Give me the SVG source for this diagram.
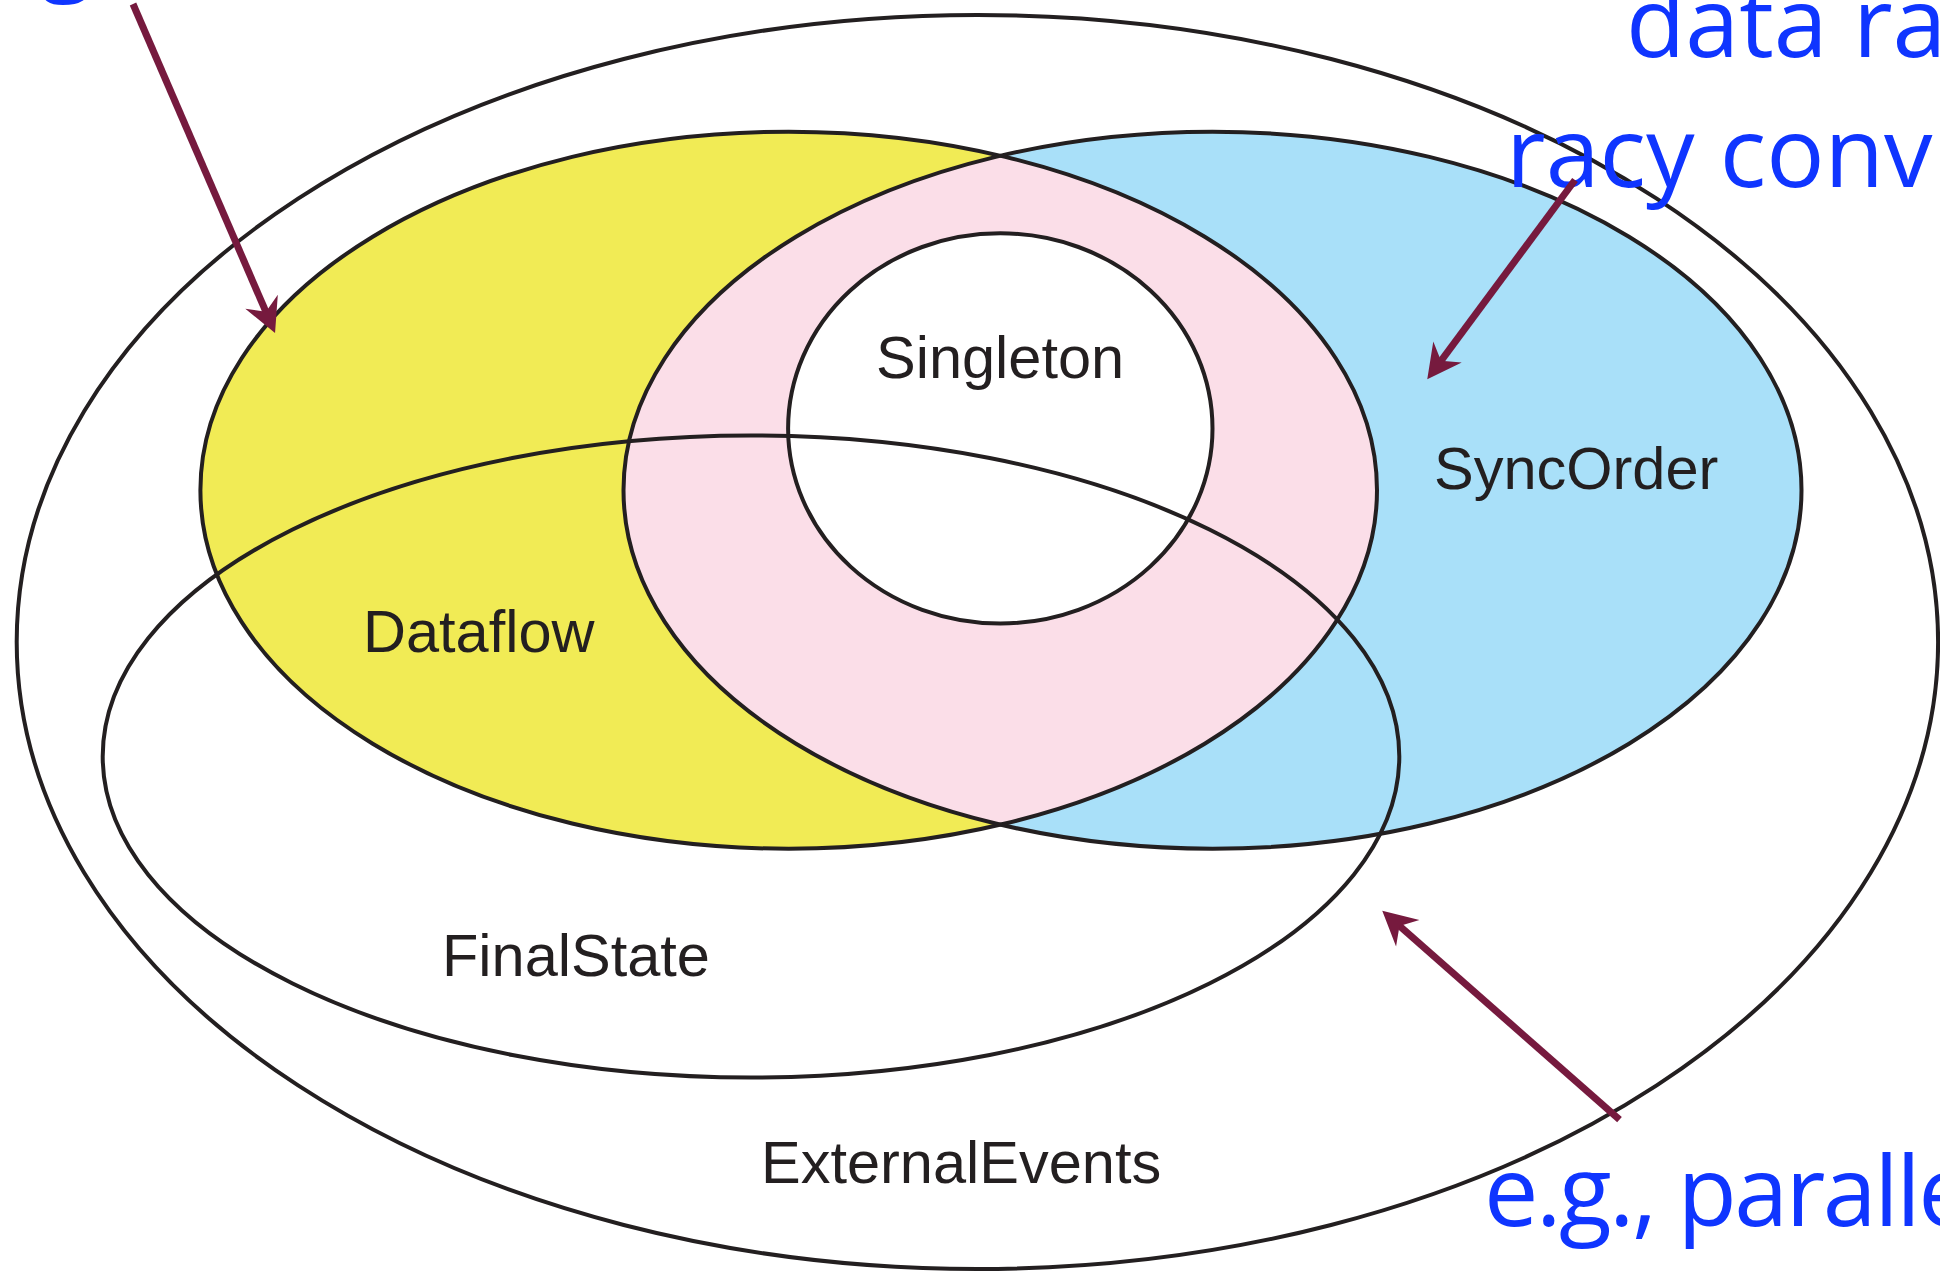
<svg xmlns="http://www.w3.org/2000/svg" width="1940" height="1271" viewBox="0 0 1940 1271">
  <style>
    .outline { fill: none; stroke: #231F20; stroke-width: 4; }
    .label { font-family: "Liberation Sans", Arial, sans-serif; font-size: 59.5px; fill: #231F20; }
    .note { font-family: "Open Sans", "Noto Sans", sans-serif; font-size: 97px; fill: #0F35FF; }
    .arrow { fill: none; stroke: #761A3E; stroke-width: 7; marker-end: url(#ah); }
  </style>
  <defs>
    <clipPath id="clipYellow">
      <ellipse cx="788.7" cy="490.2" rx="588.3" ry="358.5"/>
    </clipPath>
    <marker id="ah" markerUnits="userSpaceOnUse" markerWidth="36" markerHeight="36" viewBox="0 0 36 36" refX="21" refY="18" orient="auto">
      <path d="M2,0.3 L36,18 L2,35.7 L13,18 z" fill="#761A3E"/>
    </marker>
  </defs>
  <rect width="1940" height="1271" fill="#FFFFFF"/>

  <g id="fills">
    <ellipse cx="788.7" cy="490.2" rx="588.3" ry="358.5" fill="#F1EB55"/>
    <ellipse cx="1212.5" cy="490.2" rx="589" ry="358.5" fill="#A9E0F9"/>
    <ellipse cx="1212.5" cy="490.2" rx="589" ry="358.5" fill="#FBDEE8" clip-path="url(#clipYellow)"/>
    <ellipse cx="1000.3" cy="428.4" rx="212.2" ry="195.1" fill="#FFFFFF"/>
  </g>

  <g id="externalEvents">
    <ellipse class="outline" cx="977.4" cy="642" rx="960.7" ry="627"/>
    <text class="label" x="761" y="1183">ExternalEvents</text>
  </g>
  <g id="finalState">
    <ellipse class="outline" cx="751" cy="756.5" rx="648.3" ry="321"/>
    <text class="label" x="442" y="976">FinalState</text>
  </g>
  <g id="dataflow">
    <ellipse class="outline" cx="788.7" cy="490.2" rx="588.3" ry="358.5"/>
    <text class="label" x="363" y="652">Dataflow</text>
  </g>
  <g id="syncOrder">
    <ellipse class="outline" cx="1212.5" cy="490.2" rx="589" ry="358.5"/>
    <text class="label" x="1434" y="489">SyncOrder</text>
  </g>
  <g id="singleton">
    <ellipse class="outline" cx="1000.3" cy="428.4" rx="212.2" ry="195.1"/>
    <text class="label" x="876" y="378">Singleton</text>
  </g>

  <g id="notes">
    <text class="note" x="40" y="-18">g</text>
    <text class="note" x="1626" y="57">data ra</text>
    <text class="note" x="1506" y="187">racy conv</text>
    <text class="note" x="1484" y="1226" letter-spacing="-2.5">e.g., paralle</text>
  </g>

  <g id="connectors">
    <path class="arrow" d="M133,4 L269.1,319.2"/>
    <path class="arrow" d="M1575,180 L1436.2,367.3"/>
    <path class="arrow" d="M1619.5,1119.7 L1393.5,920.6"/>
  </g>
</svg>
